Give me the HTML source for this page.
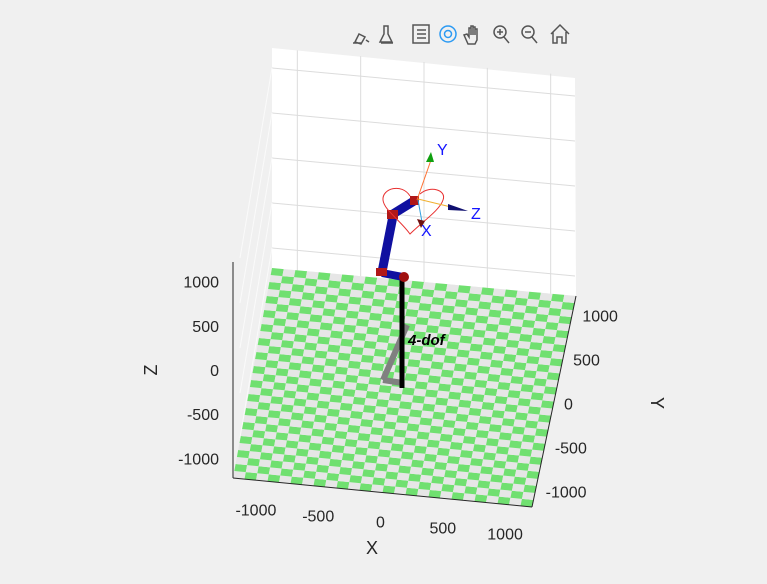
<!DOCTYPE html>
<html><head><meta charset="utf-8"><style>
body{margin:0;background:#f0f0f0;width:767px;height:579px;overflow:hidden;font-family:"Liberation Sans",sans-serif}
svg text{font-family:"Liberation Sans",sans-serif}
</style></head><body>
<svg id="c" width="767" height="579" viewBox="0 0 767 579">
<rect width="767" height="579" fill="#f0f0f0"/>
<g id="toolbar" stroke="#555" fill="none" stroke-width="1.5">
 <g><path d="M355 42l4-8 6 3-4 7zM353 43h8M366 40l3 2"/></g>
 <g><path d="M384 26h4v8l4 8h-12l4-8zM381 43h12"/></g>
 <g><rect x="413" y="25" width="16" height="18"/><path d="M417 30h9M417 34h9M417 38h9"/></g>
 <g stroke="#2b9af3"><circle cx="448" cy="34" r="8"/><circle cx="448" cy="34" r="3.5"/></g>
 <g><path d="M468 44l-4-9 3-1 2 3v-9h2v7-9h2v9-8h2v8-6h2v11l-2 4z"/></g>
 <g><circle cx="500" cy="32" r="6"/><path d="M504 37l5 6M497 32h6M500 29v6"/></g>
 <g><circle cx="528" cy="32" r="6"/><path d="M532 37l5 6M525 32h6"/></g>
 <g><path d="M551 34l9-9 9 9M553 32v11h4v-6h5v6h4v-11"/></g>
</g>
<g id="walls"></g>
<g id="floor"></g>
<g id="axes"></g>
<g>
 <path d="M383 380L407 325" stroke="#808080" stroke-width="6"/>
 <path d="M383 380L403 383" stroke="#808080" stroke-width="6"/>
 <path d="M402 280V388" stroke="#000" stroke-width="5"/>
 <path d="M403 277L382 273" stroke="#1010a0" stroke-width="8"/>
 <path d="M382 272L393 216" stroke="#1010a0" stroke-width="9"/>
 <path d="M393 214L414 201" stroke="#1010a0" stroke-width="9"/>
 <circle cx="404" cy="277" r="5" fill="#a01010"/>
 <rect x="376" y="268" width="11" height="8" fill="#b01818"/>
 <rect x="387" y="210" width="11" height="9" fill="#b01818"/>
 <rect x="410" y="196" width="9" height="9" fill="#b01818"/>
 <path d="M420 194C430 185 447 190 443 200C440 210 422 222 410 234C400 220 384 210 383 200C382 188 402 183 410 196" fill="none" stroke="#e83030" stroke-width="1"/>
 <path d="M417 200L431 160" stroke="#ff7030" stroke-width="1"/>
 <path d="M431 152l-5 10h8z" fill="#10a010"/>
 <text x="437" y="155" fill="#1515ff" font-size="16">Y</text>
 <path d="M418 199L451 207" stroke="#f0b030" stroke-width="1"/>
 <path d="M448 204l20 7-20 -1z" fill="#101070"/>
 <text x="471" y="219" fill="#1515ff" font-size="16">Z</text>
 <path d="M418 200L422 222" stroke="#30a0e0" stroke-width="1"/>
 <path d="M417 219l4 9 4-7z" fill="#701010"/>
 <text x="421" y="236" fill="#1515ff" font-size="16">X</text>
 <text x="408" y="345" font-size="15" font-weight="bold" font-style="italic">4-dof</text>
</g>
</svg>
<script>
const xTicks=[-1000,-500,0,500,1000];
const yTicks=[-1000,-500,0,500,1000];
const zTicks=[-1000,-500,0,500,1000];
const NS="http://www.w3.org/2000/svg";
function mk(p,t,a){const e=document.createElementNS(NS,t);for(const k in a)e.setAttribute(k,a[k]);p.appendChild(e);return e;}
const P00=[233,478],P10=[532,507],P01=[272,268],P11=[576,296];
function proj(x,y){const u=(x+1200)/2400,v=(y+1200)/2400;
 return [P00[0]*(1-u)*(1-v)+P10[0]*u*(1-v)+P01[0]*(1-u)*v+P11[0]*u*v,
         P00[1]*(1-u)*(1-v)+P10[1]*u*(1-v)+P01[1]*(1-u)*v+P11[1]*u*v];}
function zs(z){return 370-z*0.0884;}
const walls=document.getElementById('walls');
let bw=mk(walls,'polygon',{points:"272,268 576,296 575,78 272,48",fill:"#fff"});


[68,113,158,203,248].forEach(function(y){
 const l=mk(walls,'line',{x1:272,y1:y,x2:575,y2:y+28,stroke:"#dcdcdc"});
 
 
 const l2=mk(walls,'line',{x1:272,y1:y,x2:240,y2:y+190,stroke:"#fafafa"});
 
 
});
xTicks.forEach(function(t){const a=proj(t,1200);
 const l=mk(walls,'line',{x1:a[0],y1:a[1],x2:a[0],y2:a[1]-220,stroke:"#dcdcdc"});
 
 });
const floor=document.getElementById('floor');
const NC=26,NR=30;
for(let i=0;i<NC;i++)for(let j=0;j<NR;j++){
 const x0=-1200+2400*i/NC,x1=-1200+2400*(i+1)/NC,y0=-1200+2400*j/NR,y1=-1200+2400*(j+1)/NR;
 const p=[proj(x0,y0),proj(x1,y0),proj(x1,y1),proj(x0,y1)];
 const c=mk(floor,'polygon',{points:p.map(q=>q.join(',')).join(' '),fill:(i+j)%2?"#70e070":"#e6e6e6"});
 
 
}
const ax=document.getElementById('axes');
let a=mk(ax,'line',{x1:233,y1:478,x2:532,y2:507,stroke:"#262626"});

a=mk(ax,'line',{x1:576,y1:296,x2:532,y2:507,stroke:"#262626"});

a=mk(ax,'line',{x1:233,y1:262,x2:233,y2:478,stroke:"#262626"});

xTicks.forEach(function(t){const p=proj(t,-1200);
 const tx=mk(ax,'text',{x:p[0]-2,y:p[1]+35,"font-size":16,fill:"#262626","text-anchor":"middle"});
 tx.textContent=t;
 
 });
yTicks.forEach(function(t){const p=proj(1200,t);
 const tx=mk(ax,'text',{x:p[0]+10,y:p[1]+8,"font-size":16,fill:"#262626"});
 tx.textContent=t;
 
 });
zTicks.forEach(function(t){
 const tx=mk(ax,'text',{x:219,y:zs(t)+6,"font-size":16,fill:"#262626","text-anchor":"end"});
 tx.textContent=t;
 
 });
let l=mk(ax,'text',{x:372,y:554,"font-size":18,fill:"#262626","text-anchor":"middle"});l.textContent="X";

l=mk(ax,'text',{x:651,y:403,"font-size":18,fill:"#262626","text-anchor":"middle",transform:"rotate(90 651 403)"});l.textContent="Y";

l=mk(ax,'text',{x:157,y:370,"font-size":18,fill:"#262626","text-anchor":"middle",transform:"rotate(-90 157 370)"});l.textContent="Z";

</script>
</body></html>
